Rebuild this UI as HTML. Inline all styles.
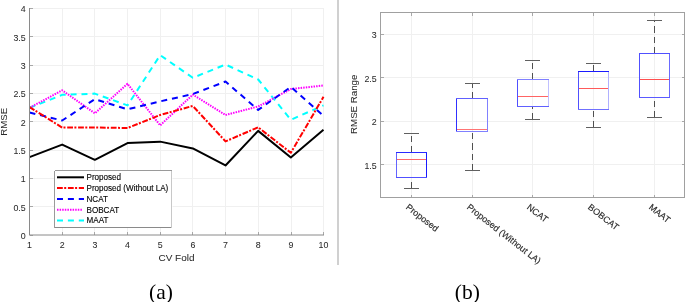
<!DOCTYPE html>
<html><head><meta charset="utf-8"><style>
html,body{margin:0;padding:0;background:#fff;}
body{width:685px;height:302px;overflow:hidden;}
svg{display:block;will-change:transform;}
text{font-family:"Liberation Sans",sans-serif;}
.s{font-family:"Liberation Serif",serif;}
</style></head><body>
<svg width="685" height="302" viewBox="0 0 685 302">
<rect width="685" height="302" fill="#fff"/>

<g stroke="#f0f0f0" stroke-width="1" shape-rendering="crispEdges">
<line x1="29.5" y1="206.85" x2="323.5" y2="206.85"/>
<line x1="29.5" y1="178.50" x2="323.5" y2="178.50"/>
<line x1="29.5" y1="150.15" x2="323.5" y2="150.15"/>
<line x1="29.5" y1="121.80" x2="323.5" y2="121.80"/>
<line x1="29.5" y1="93.45" x2="323.5" y2="93.45"/>
<line x1="29.5" y1="65.10" x2="323.5" y2="65.10"/>
<line x1="29.5" y1="36.75" x2="323.5" y2="36.75"/>
<line x1="29.5" y1="8.40" x2="323.5" y2="8.40"/>
<line x1="62.17" y1="8.40" x2="62.17" y2="235.20"/>
<line x1="94.83" y1="8.40" x2="94.83" y2="235.20"/>
<line x1="127.50" y1="8.40" x2="127.50" y2="235.20"/>
<line x1="160.17" y1="8.40" x2="160.17" y2="235.20"/>
<line x1="192.83" y1="8.40" x2="192.83" y2="235.20"/>
<line x1="225.50" y1="8.40" x2="225.50" y2="235.20"/>
<line x1="258.17" y1="8.40" x2="258.17" y2="235.20"/>
<line x1="291.50" y1="8.40" x2="291.50" y2="235.20"/>
<line x1="323.50" y1="8.40" x2="323.50" y2="235.20"/>
</g>
<g fill="none" stroke-linejoin="round">
<polyline points="29.50,107.91 62.17,94.87 94.83,93.62 127.50,105.36 160.17,55.18 192.83,77.80 225.50,64.53 258.17,79.50 290.83,119.82 323.50,105.36" stroke="#00ffff" stroke-width="2" stroke-dasharray="6 4.9"/>
<polyline points="29.50,107.91 62.17,90.27 94.83,113.29 127.50,83.81 160.17,125.37 192.83,94.58 225.50,115.00 258.17,106.49 290.83,89.03 323.50,85.51" stroke="#ff00ff" stroke-width="2" stroke-dasharray="1.5 1.1"/>
<polyline points="29.50,112.50 62.17,120.50 94.83,99.12 127.50,109.33 160.17,101.39 192.83,94.07 225.50,81.54 258.17,109.89 290.83,86.93 323.50,115.85" stroke="#0000ff" stroke-width="2" stroke-dasharray="6 4.9"/>
<polyline points="29.50,107.06 62.17,127.58 94.83,127.47 127.50,128.04 160.17,115.00 192.83,105.92 225.50,141.36 258.17,127.30 290.83,152.81 323.50,96.85" stroke="#ff0000" stroke-width="2" stroke-dasharray="5.8 1.4 2 1.7"/>
<polyline points="29.50,157.12 62.17,144.59 94.83,159.79 127.50,143.12 160.17,141.64 192.83,148.45 225.50,165.46 258.17,130.87 290.83,157.52 323.50,129.74" stroke="#000000" stroke-width="2"/>
</g>
<g stroke="#a8a8a8" stroke-width="1" shape-rendering="crispEdges" fill="none">
<line x1="29.5" y1="235.20" x2="33.0" y2="235.20"/>
<line x1="29.5" y1="206.85" x2="33.0" y2="206.85"/>
<line x1="29.5" y1="178.50" x2="33.0" y2="178.50"/>
<line x1="29.5" y1="150.15" x2="33.0" y2="150.15"/>
<line x1="29.5" y1="121.80" x2="33.0" y2="121.80"/>
<line x1="29.5" y1="93.45" x2="33.0" y2="93.45"/>
<line x1="29.5" y1="65.10" x2="33.0" y2="65.10"/>
<line x1="29.5" y1="36.75" x2="33.0" y2="36.75"/>
<line x1="29.5" y1="8.40" x2="33.0" y2="8.40"/>
<line x1="29.50" y1="235.20" x2="29.50" y2="232.20"/>
<line x1="62.17" y1="235.20" x2="62.17" y2="232.20"/>
<line x1="94.83" y1="235.20" x2="94.83" y2="232.20"/>
<line x1="127.50" y1="235.20" x2="127.50" y2="232.20"/>
<line x1="160.17" y1="235.20" x2="160.17" y2="232.20"/>
<line x1="192.83" y1="235.20" x2="192.83" y2="232.20"/>
<line x1="225.50" y1="235.20" x2="225.50" y2="232.20"/>
<line x1="258.17" y1="235.20" x2="258.17" y2="232.20"/>
<line x1="291.50" y1="235.20" x2="291.50" y2="232.20"/>
<line x1="323.50" y1="235.20" x2="323.50" y2="232.20"/>
</g>
<g stroke="#8a8a8a" stroke-width="1" shape-rendering="crispEdges" fill="none">
<line x1="29.5" y1="8.40" x2="29.5" y2="235"/>
</g>
<line x1="29" y1="235" x2="324.0" y2="235" stroke="#8a8a8a" stroke-width="1"/>
<g font-size="9.5" fill="#2a2a2a" stroke="#2a2a2a" stroke-width="0.05" text-anchor="end">
<text transform="translate(25.7,239.10) scale(0.93,1)">0</text>
<text transform="translate(25.7,210.75) scale(0.93,1)">0.5</text>
<text transform="translate(25.7,182.40) scale(0.93,1)">1</text>
<text transform="translate(25.7,154.05) scale(0.93,1)">1.5</text>
<text transform="translate(25.7,125.70) scale(0.93,1)">2</text>
<text transform="translate(25.7,97.35) scale(0.93,1)">2.5</text>
<text transform="translate(25.7,69.00) scale(0.93,1)">3</text>
<text transform="translate(25.7,40.65) scale(0.93,1)">3.5</text>
<text transform="translate(25.7,12.30) scale(0.93,1)">4</text>
</g>
<g font-size="9.5" fill="#2a2a2a" stroke="#2a2a2a" stroke-width="0.05" text-anchor="middle">
<text transform="translate(29.50,248.3) scale(0.93,1)">1</text>
<text transform="translate(62.17,248.3) scale(0.93,1)">2</text>
<text transform="translate(94.83,248.3) scale(0.93,1)">3</text>
<text transform="translate(127.50,248.3) scale(0.93,1)">4</text>
<text transform="translate(160.17,248.3) scale(0.93,1)">5</text>
<text transform="translate(192.83,248.3) scale(0.93,1)">6</text>
<text transform="translate(225.50,248.3) scale(0.93,1)">7</text>
<text transform="translate(258.17,248.3) scale(0.93,1)">8</text>
<text transform="translate(290.83,248.3) scale(0.93,1)">9</text>
<text transform="translate(323.50,248.3) scale(0.93,1)">10</text>
</g>
<text transform="translate(176.5,261.1) scale(1.07,1)" font-size="9.3" fill="#2a2a2a" stroke="#2a2a2a" stroke-width="0.05" text-anchor="middle">CV Fold</text>
<text transform="translate(7.3,121.8) rotate(-90)" font-size="9.6" fill="#2a2a2a" stroke="#2a2a2a" stroke-width="0.05" text-anchor="middle">RMSE</text>
<rect x="54" y="170" width="118.5" height="58" fill="#fff"/>
<g shape-rendering="crispEdges" stroke-width="1" fill="none">
<line x1="54.5" y1="170.5" x2="172" y2="170.5" stroke="#9a9a9a"/>
<line x1="54.5" y1="170.5" x2="54.5" y2="227.5" stroke="#9a9a9a"/>
<line x1="54.5" y1="227.5" x2="172" y2="227.5" stroke="#8a8a8a"/>
<line x1="171.5" y1="170.5" x2="171.5" y2="227.5" stroke="#c8c8c8"/>
</g>
<line x1="57" y1="177.3" x2="84" y2="177.3" stroke="#000" stroke-width="2"/>
<line x1="57" y1="188.1" x2="84" y2="188.1" stroke="#f00" stroke-width="2" stroke-dasharray="5.8 1.4 2 1.7"/>
<line x1="57" y1="198.9" x2="84" y2="198.9" stroke="#00f" stroke-width="2" stroke-dasharray="6 4.9"/>
<line x1="57" y1="209.8" x2="83" y2="209.8" stroke="#f0f" stroke-width="2" stroke-dasharray="1.5 1.1"/>
<line x1="57" y1="220.5" x2="84" y2="220.5" stroke="#0ff" stroke-width="2" stroke-dasharray="6 4.9"/>
<g font-size="9" fill="#000" stroke="#000" stroke-width="0.12">
<text transform="translate(86.5,179.8) scale(0.9,1)">Proposed</text>
<text transform="translate(86.5,190.5) scale(0.9,1)">Proposed (Without LA)</text>
<text transform="translate(86.5,201.6) scale(0.9,1)">NCAT</text>
<text transform="translate(86.5,212.6) scale(0.9,1)">BOBCAT</text>
<text transform="translate(86.5,223.4) scale(0.9,1)">MAAT</text>
</g>
<rect x="337" y="0" width="2" height="265" fill="#d0d0d0"/>
<g stroke="#f0f0f0" stroke-width="1" shape-rendering="crispEdges">
<line x1="380.5" y1="164.90" x2="684.5" y2="164.90"/>
<line x1="380.5" y1="121.40" x2="684.5" y2="121.40"/>
<line x1="380.5" y1="77.90" x2="684.5" y2="77.90"/>
<line x1="380.5" y1="34.40" x2="684.5" y2="34.40"/>
<line x1="411.50" y1="12.5" x2="411.50" y2="197.5"/>
<line x1="472.50" y1="12.5" x2="472.50" y2="197.5"/>
<line x1="532.50" y1="12.5" x2="532.50" y2="197.5"/>
<line x1="593.50" y1="12.5" x2="593.50" y2="197.5"/>
<line x1="654.50" y1="12.5" x2="654.50" y2="197.5"/>
</g>
<line x1="411.5" y1="152.5" x2="411.5" y2="133.5" stroke="#505050" stroke-width="1" stroke-dasharray="6.3 4.2" shape-rendering="crispEdges"/>
<line x1="411.5" y1="188.5" x2="411.5" y2="177.5" stroke="#505050" stroke-width="1" stroke-dasharray="6.3 4.2" shape-rendering="crispEdges"/>
<line x1="404.0" y1="133.5" x2="419.0" y2="133.5" stroke="#606060" stroke-width="1" shape-rendering="crispEdges"/>
<line x1="404.0" y1="188.5" x2="419.0" y2="188.5" stroke="#606060" stroke-width="1" shape-rendering="crispEdges"/>
<g stroke-width="1" shape-rendering="crispEdges" fill="none">
<line x1="426.5" y1="152.5" x2="426.5" y2="177.5" stroke="#1a1aff"/>
<line x1="396.5" y1="152.5" x2="396.5" y2="177.5" stroke="#6464ff"/>
<line x1="396.0" y1="152.5" x2="427.0" y2="152.5" stroke="#2a2aff"/>
<line x1="396.0" y1="177.5" x2="427.0" y2="177.5" stroke="#5050ff"/>
<line x1="397.0" y1="159.5" x2="426.0" y2="159.5" stroke="#ff6868"/>
</g>
<line x1="472.5" y1="98.5" x2="472.5" y2="83.5" stroke="#505050" stroke-width="1" stroke-dasharray="6.3 4.2" shape-rendering="crispEdges"/>
<line x1="472.5" y1="170.5" x2="472.5" y2="131.5" stroke="#505050" stroke-width="1" stroke-dasharray="6.3 4.2" shape-rendering="crispEdges"/>
<line x1="465.0" y1="83.5" x2="480.0" y2="83.5" stroke="#606060" stroke-width="1" shape-rendering="crispEdges"/>
<line x1="465.0" y1="170.5" x2="480.0" y2="170.5" stroke="#606060" stroke-width="1" shape-rendering="crispEdges"/>
<g stroke-width="1" shape-rendering="crispEdges" fill="none">
<line x1="487.5" y1="98.5" x2="487.5" y2="131.5" stroke="#8080ff"/>
<line x1="456.5" y1="98.5" x2="456.5" y2="131.5" stroke="#3030ff"/>
<line x1="456.0" y1="98.5" x2="488.0" y2="98.5" stroke="#6060ff"/>
<line x1="456.0" y1="131.5" x2="488.0" y2="131.5" stroke="#8080ff"/>
<line x1="457.0" y1="129.5" x2="487.0" y2="129.5" stroke="#ff7474"/>
</g>
<line x1="532.5" y1="79.5" x2="532.5" y2="60.5" stroke="#505050" stroke-width="1" stroke-dasharray="6.3 4.2" shape-rendering="crispEdges"/>
<line x1="532.5" y1="119.5" x2="532.5" y2="106.5" stroke="#505050" stroke-width="1" stroke-dasharray="6.3 4.2" shape-rendering="crispEdges"/>
<line x1="525.0" y1="60.5" x2="540.0" y2="60.5" stroke="#606060" stroke-width="1" shape-rendering="crispEdges"/>
<line x1="525.0" y1="119.5" x2="540.0" y2="119.5" stroke="#606060" stroke-width="1" shape-rendering="crispEdges"/>
<g stroke-width="1" shape-rendering="crispEdges" fill="none">
<line x1="548.5" y1="79.5" x2="548.5" y2="106.5" stroke="#c0c0ff"/>
<line x1="517.5" y1="79.5" x2="517.5" y2="106.5" stroke="#5050ff"/>
<line x1="517.0" y1="79.5" x2="549.0" y2="79.5" stroke="#8080ff"/>
<line x1="517.0" y1="106.5" x2="549.0" y2="106.5" stroke="#6060ff"/>
<line x1="518.0" y1="96.5" x2="548.0" y2="96.5" stroke="#ff6464"/>
</g>
<line x1="593.5" y1="71.5" x2="593.5" y2="63.5" stroke="#505050" stroke-width="1" stroke-dasharray="6.3 4.2" shape-rendering="crispEdges"/>
<line x1="593.5" y1="127.5" x2="593.5" y2="109.5" stroke="#505050" stroke-width="1" stroke-dasharray="6.3 4.2" shape-rendering="crispEdges"/>
<line x1="586.0" y1="63.5" x2="601.0" y2="63.5" stroke="#606060" stroke-width="1" shape-rendering="crispEdges"/>
<line x1="586.0" y1="127.5" x2="601.0" y2="127.5" stroke="#606060" stroke-width="1" shape-rendering="crispEdges"/>
<g stroke-width="1" shape-rendering="crispEdges" fill="none">
<line x1="608.5" y1="71.5" x2="608.5" y2="109.5" stroke="#b0b0ff"/>
<line x1="578.5" y1="71.5" x2="578.5" y2="109.5" stroke="#5050ff"/>
<line x1="578.0" y1="71.5" x2="609.0" y2="71.5" stroke="#1a1aff"/>
<line x1="578.0" y1="109.5" x2="609.0" y2="109.5" stroke="#7070ff"/>
<line x1="579.0" y1="88.5" x2="608.0" y2="88.5" stroke="#ff5a5a"/>
</g>
<line x1="654.5" y1="53.5" x2="654.5" y2="20.5" stroke="#505050" stroke-width="1" stroke-dasharray="6.3 4.2" shape-rendering="crispEdges"/>
<line x1="654.5" y1="117.5" x2="654.5" y2="97.5" stroke="#505050" stroke-width="1" stroke-dasharray="6.3 4.2" shape-rendering="crispEdges"/>
<line x1="647.0" y1="20.5" x2="662.0" y2="20.5" stroke="#606060" stroke-width="1" shape-rendering="crispEdges"/>
<line x1="647.0" y1="117.5" x2="662.0" y2="117.5" stroke="#606060" stroke-width="1" shape-rendering="crispEdges"/>
<g stroke-width="1" shape-rendering="crispEdges" fill="none">
<line x1="669.5" y1="53.5" x2="669.5" y2="97.5" stroke="#6a6aff"/>
<line x1="639.5" y1="53.5" x2="639.5" y2="97.5" stroke="#5050ff"/>
<line x1="639.0" y1="53.5" x2="670.0" y2="53.5" stroke="#5050ff"/>
<line x1="639.0" y1="97.5" x2="670.0" y2="97.5" stroke="#5a5aff"/>
<line x1="640.0" y1="79.5" x2="669.0" y2="79.5" stroke="#ff5050"/>
</g>
<g stroke="#a8a8a8" stroke-width="1" shape-rendering="crispEdges" fill="none">
<line x1="380.5" y1="164.90" x2="383.5" y2="164.90"/>
<line x1="684.5" y1="164.90" x2="681.5" y2="164.90"/>
<line x1="380.5" y1="121.40" x2="383.5" y2="121.40"/>
<line x1="684.5" y1="121.40" x2="681.5" y2="121.40"/>
<line x1="380.5" y1="77.90" x2="383.5" y2="77.90"/>
<line x1="684.5" y1="77.90" x2="681.5" y2="77.90"/>
<line x1="380.5" y1="34.40" x2="383.5" y2="34.40"/>
<line x1="684.5" y1="34.40" x2="681.5" y2="34.40"/>
<line x1="411.50" y1="197.5" x2="411.50" y2="194.5"/>
<line x1="411.50" y1="12.5" x2="411.50" y2="15.5"/>
<line x1="472.50" y1="197.5" x2="472.50" y2="194.5"/>
<line x1="472.50" y1="12.5" x2="472.50" y2="15.5"/>
<line x1="532.50" y1="197.5" x2="532.50" y2="194.5"/>
<line x1="532.50" y1="12.5" x2="532.50" y2="15.5"/>
<line x1="593.50" y1="197.5" x2="593.50" y2="194.5"/>
<line x1="593.50" y1="12.5" x2="593.50" y2="15.5"/>
<line x1="654.50" y1="197.5" x2="654.50" y2="194.5"/>
<line x1="654.50" y1="12.5" x2="654.50" y2="15.5"/>
</g>
<g stroke="#a0a0a0" stroke-width="1" shape-rendering="crispEdges" fill="none">
<rect x="380.5" y="12.5" width="304.00" height="185.00"/>
</g>
<g font-size="9.5" fill="#2a2a2a" stroke="#2a2a2a" stroke-width="0.05" text-anchor="end">
<text transform="translate(376.7,168.80) scale(0.93,1)">1.5</text>
<text transform="translate(376.7,125.30) scale(0.93,1)">2</text>
<text transform="translate(376.7,81.80) scale(0.93,1)">2.5</text>
<text transform="translate(376.7,38.30) scale(0.93,1)">3</text>
</g>
<text transform="translate(357.4,104.3) rotate(-90) scale(0.99,1)" font-size="9.8" fill="#2a2a2a" stroke="#2a2a2a" stroke-width="0.05" text-anchor="middle">RMSE Range</text>
<g font-size="9" fill="#2a2a2a" stroke="#2a2a2a" stroke-width="0.15">
<text transform="translate(405.20,208.30) rotate(38)">Proposed</text>
<text transform="translate(466.20,208.30) rotate(38)">Proposed (Without LA)</text>
<text transform="translate(526.20,208.30) rotate(38)">NCAT</text>
<text transform="translate(587.20,208.30) rotate(38)">BOBCAT</text>
<text transform="translate(648.20,208.30) rotate(38)">MAAT</text>
</g>
<text class="s" x="161" y="298.8" font-size="21.5" fill="#000" text-anchor="middle">(a)</text>
<text class="s" x="467.3" y="298.8" font-size="21.5" fill="#000" text-anchor="middle">(b)</text>
</svg>
</body></html>
